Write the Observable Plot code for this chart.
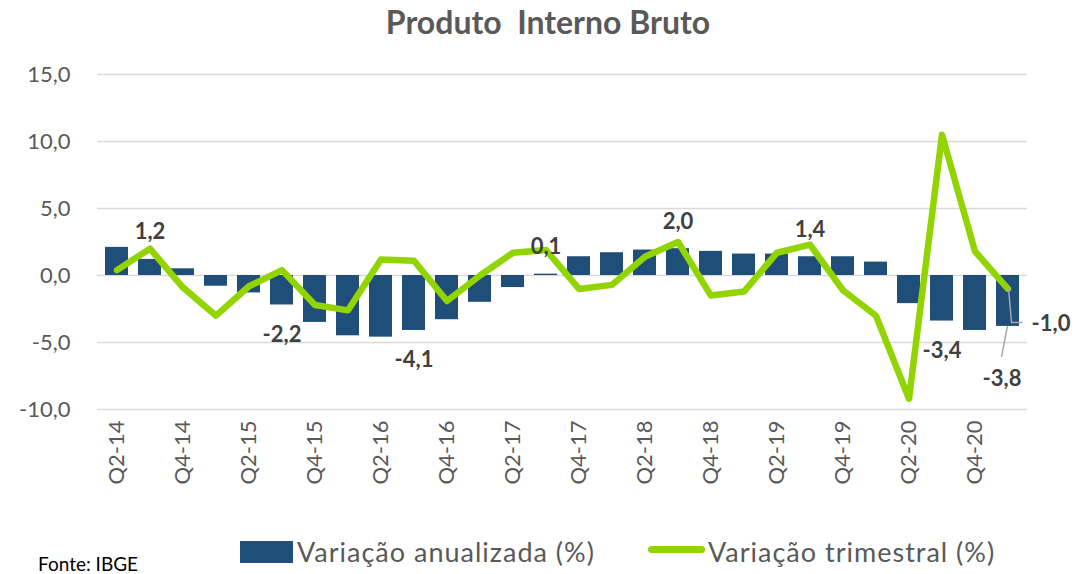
<!DOCTYPE html>
<html>
<head>
<meta charset="utf-8">
<script src="https://cdn.jsdelivr.net/npm/d3@7"></script>
<script src="https://cdn.jsdelivr.net/npm/@observablehq/plot@0.6"></script>
<style>
  html, body { margin: 0; padding: 0; background: #fff; }
  #wrap { position: relative; width: 1079px; height: 574px; font-family: Lato, "Open Sans", sans-serif; overflow: hidden; }
  #title { position: absolute; top: 3px; left: 0; width: 1079px; padding-left: 17px; box-sizing: border-box; text-align: center; font-size: 32px; font-weight: bold; color: #595959; line-height: 38px; }
  #chart { position: absolute; top: 48px; left: 0; }
  .leg { position: absolute; font-size: 27px; letter-spacing: 1px; color: #595959; line-height: 30px; white-space: nowrap; }
  #src { position: absolute; left: 38px; top: 554px; font-size: 19px; color: #000; line-height: 20px; }
</style>
</head>
<body>
<div id="wrap">
  <div id="title">Produto&nbsp; Interno Bruto</div>
  <div id="chart"></div>
  <div style="position:absolute;left:240px;top:541px;width:53px;height:22px;background:#1f4e79"></div>
  <div class="leg" style="left:297px;top:537px">Variação anualizada (%)</div>
  <div style="position:absolute;left:648px;top:546px;width:57px;height:7px;border-radius:4px;background:#92d400"></div>
  <div class="leg" style="left:708px;top:537px">Variação trimestral (%)</div>
  <div id="src">Fonte: IBGE</div>
</div>
<script>
const quarters = ["Q2-14","Q3-14","Q4-14","Q1-15","Q2-15","Q3-15","Q4-15","Q1-16","Q2-16","Q3-16","Q4-16","Q1-17","Q2-17","Q3-17","Q4-17","Q1-18","Q2-18","Q3-18","Q4-18","Q1-19","Q2-19","Q3-19","Q4-19","Q1-20","Q2-20","Q3-20","Q4-20","Q1-21"];
const annualized = [2.1, 1.2, 0.5, -0.8, -1.3, -2.2, -3.5, -4.5, -4.6, -4.1, -3.3, -2.0, -0.9, 0.1, 1.4, 1.7, 1.9, 2.0, 1.8, 1.6, 1.6, 1.4, 1.4, 1.0, -2.1, -3.4, -4.1, -3.8];
const quarterly = [0.4, 2.0, -0.9, -3.0, -0.8, 0.4, -2.2, -2.6, 1.2, 1.1, -1.9, 0.0, 1.7, 1.9, -1.0, -0.7, 1.4, 2.5, -1.5, -1.2, 1.7, 2.3, -1.1, -3.0, -9.2, 10.5, 1.8, -1.0];
const yTicks = [-10, -5, 0, 5, 10, 15];
const xTickLabels = quarters.filter((q, i) => i % 2 === 0);
const labelsAbove = ["Q3-14", "Q3-17", "Q3-18", "Q3-19"];
const labelsBelow = ["Q3-15", "Q3-16", "Q3-20"];
const labelFar = ["Q1-21"];
const labelLine = ["Q1-21"];

const fmt = v => v.toFixed(1).replace(".", ",");
const rows = quarters.map((q, i) => ({q, a: annualized[i], t: quarterly[i]}));

const labelStyle = {fontWeight: "bold", fontSize: 22, fill: "#404040", fontFamily: "Lato, sans-serif"};

function leaders(index, scales) {
  const x = scales.x, y = scales.y;
  let bw = x.bandwidth;
  if (typeof bw === "function") bw = bw();
  if (bw == null) bw = 23.3;
  const g = d3.create("svg:g").attr("fill", "none").attr("stroke", "#a6a6a6").attr("stroke-width", 1.5);
  const far = rows.find(r => r.q === labelFar[0]);
  const cx = x(far.q) + bw / 2;
  g.append("path").attr("d", `M${cx},${y(far.a)}L${cx - 6},${y(far.a) + 31}`);
  const ln = rows.find(r => r.q === labelLine[0]);
  const cy = y(ln.t), cy2 = cy + 34;
  g.append("path").attr("d", `M${cx + 1},${cy}L${cx + 4},${cy2}L${cx + 15},${cy2}`);
  return g.node();
}

const chart = Plot.plot({
  width: 1079,
  height: 491,
  marginTop: 26,
  marginBottom: 130,
  marginLeft: 97,
  marginRight: 52,
  style: {fontFamily: "Lato, sans-serif", background: "transparent"},
  x: {type: "band", domain: quarters, paddingInner: 0.3, paddingOuter: 0.1, label: null},
  y: {domain: [-10, 15], label: null},
  marks: [
    Plot.gridY(yTicks, {stroke: "#d9d9d9", strokeOpacity: 1, strokeWidth: 1.5}),
    Plot.barY(rows, {x: "q", y: "a", fill: "#1f4e79"}),
    Plot.line(rows, {x: "q", y: "t", stroke: "#92d400", strokeWidth: 6.5, strokeLinejoin: "round", strokeLinecap: "round"}),
    leaders,
    Plot.text(rows.filter(r => labelsAbove.includes(r.q)), {x: "q", y: "a", text: d => fmt(d.a), dy: -27, ...labelStyle}),
    Plot.text(rows.filter(r => labelsBelow.includes(r.q)), {x: "q", y: "a", text: d => fmt(d.a), dy: 30, ...labelStyle}),
    Plot.text(rows.filter(r => labelFar.includes(r.q)), {x: "q", y: "a", text: d => fmt(d.a), dy: 53, dx: -6, ...labelStyle}),
    Plot.text(rows.filter(r => labelLine.includes(r.q)), {x: "q", y: "t", text: d => fmt(d.t), dy: 35, dx: 43, ...labelStyle}),
    Plot.axisY({ticks: yTicks, tickFormat: fmt, tickSize: 0, tickPadding: 27, fontSize: 22, color: "#595959", label: null}),
    Plot.axisX({ticks: xTickLabels, tickRotate: -90, tickSize: 0, tickPadding: 11, fontSize: 22, color: "#595959", label: null})
  ]
});
document.getElementById("chart").appendChild(chart);
</script>
</body>
</html>
